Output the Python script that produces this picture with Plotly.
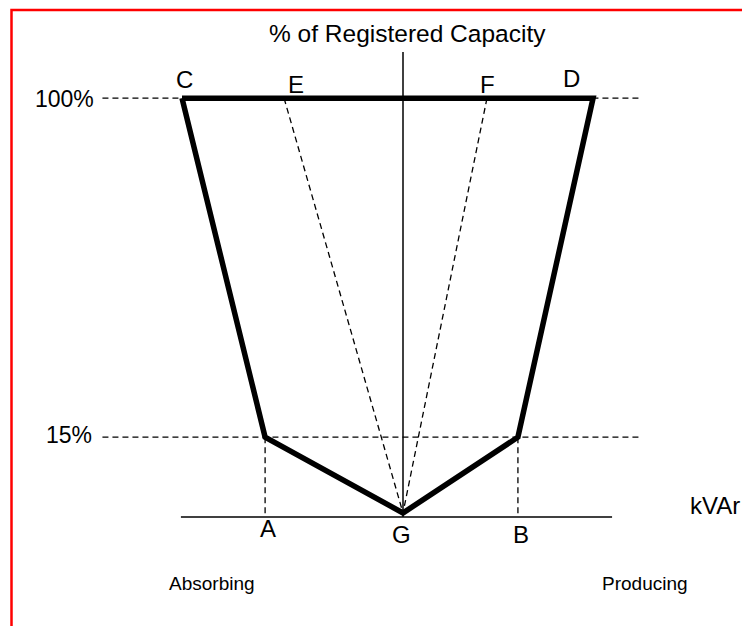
import plotly.graph_objects as go

# ---- data (schematic units: x = kVAr, y = % of Registered Capacity) ----
point_names = ["C", "A", "G", "B", "D"]
point_x = [-100.0, -62.4, 0.0, 52.0, 86.0]
point_y = [100.0, 15.0, -4.0, 15.0, 100.0]

fan_names = ["E", "F"]
fan_x = [-53.8, 38.0]
fan_y = [100.0, 100.0]

level_labels = ["100%", "15%"]
level_values = [100.0, 15.0]

axis_y = -5.0          # kVAr axis level
axis_x_min, axis_x_max = -100.5, 94.6
vert_axis_top = 111.6
level_x_min, level_x_max = -136.0, 107.5

# ---- pixel mapping (figure 750x626, no margins, page body offset 8px) ----
W, H = 750, 626
OFF = 8
SX, CX = 2.21, 403.0
SY, CY = 3.988, 497.0
X0, X1 = (OFF - CX) / SX, (OFF + W - CX) / SX
Y1, Y0 = (CY - OFF) / SY, (CY - OFF - H) / SY

def dx(px):
    return (px - CX) / SX

def dy(py):
    return (CY - py) / SY

FONT = "Liberation Sans, Arial, sans-serif"
fig = go.Figure()

dash_style = dict(color="black", width=1.3, dash="6px,4px")

# horizontal level dashed lines
for v in level_values:
    fig.add_trace(go.Scatter(x=[level_x_min, level_x_max], y=[v, v], mode="lines",
                             line=dash_style, hoverinfo="skip", showlegend=False))

# fan dashed lines from E, F to G
gx, gy = point_x[2], point_y[2]
for fx, fy in zip(fan_x, fan_y):
    fig.add_trace(go.Scatter(x=[fx, gx], y=[fy, gy], mode="lines",
                             line=dash_style, hoverinfo="skip", showlegend=False))

# vertical dashed drops from A and B
for i in (1, 3):
    fig.add_trace(go.Scatter(x=[point_x[i], point_x[i]], y=[point_y[i], axis_y], mode="lines",
                             line=dash_style, hoverinfo="skip", showlegend=False))

# axes
fig.add_trace(go.Scatter(x=[axis_x_min, axis_x_max], y=[axis_y, axis_y], mode="lines",
                         line=dict(color="black", width=1.5), hoverinfo="skip", showlegend=False))
fig.add_trace(go.Scatter(x=[0, 0], y=[axis_y, vert_axis_top], mode="lines",
                         line=dict(color="black", width=1.5), hoverinfo="skip", showlegend=False))

# thick capability outline C-A-G-B-D-C
fig.add_trace(go.Scatter(x=point_x + [point_x[0]], y=point_y + [point_y[0]], mode="lines",
                         line=dict(color="black", width=5.5), hoverinfo="skip", showlegend=False))

ann = []
def label(text, x, y, xs=0, ys=0, size=24, xanchor="center"):
    ann.append(dict(text=text, x=x, y=y, xref="x", yref="y", showarrow=False,
                    xshift=xs, yshift=ys, xanchor=xanchor, yanchor="middle",
                    font=dict(family=FONT, size=size, color="black")))

# point labels
label("C", point_x[0], point_y[0], 2, 19)
label("D", point_x[4], point_y[4], -22, 20)
label("E", fan_x[0], fan_y[0], 12, 14)
label("F", fan_x[1], fan_y[1], 1, 14)
label("A", point_x[1], axis_y, 3, -12)
label("G", point_x[2], axis_y, -2, -18)
label("B", point_x[3], axis_y, 3, -18)

# level labels
label(level_labels[0], dx(96), level_values[0], size=23, xanchor="right", ys=-1)
label(level_labels[1], dx(94), level_values[1], size=23, xanchor="right", ys=2)

# other texts
label("% of Registered Capacity", dx(407), dy(33), size=24.5)
label("kVAr", dx(715), dy(505), size=24)
label("Absorbing", dx(212), dy(583), size=19)
label("Producing", dx(645), dy(583), size=19)

fig.update_layout(
    width=W, height=H,
    margin=dict(l=0, r=0, t=0, b=0),
    paper_bgcolor="white", plot_bgcolor="white",
    xaxis=dict(range=[X0, X1], visible=False, fixedrange=True),
    yaxis=dict(range=[Y0, Y1], visible=False, fixedrange=True),
    annotations=ann,
    shapes=[dict(type="rect", xref="paper", yref="paper",
                 x0=(11.5 - OFF) / W, x1=1.02, y0=-0.02, y1=1 - (10 - OFF) / H,
                 line=dict(color="red", width=2.5), fillcolor="rgba(0,0,0,0)")],
    showlegend=False,
)

fig.write_html("out.html", config={"displayModeBar": False})
